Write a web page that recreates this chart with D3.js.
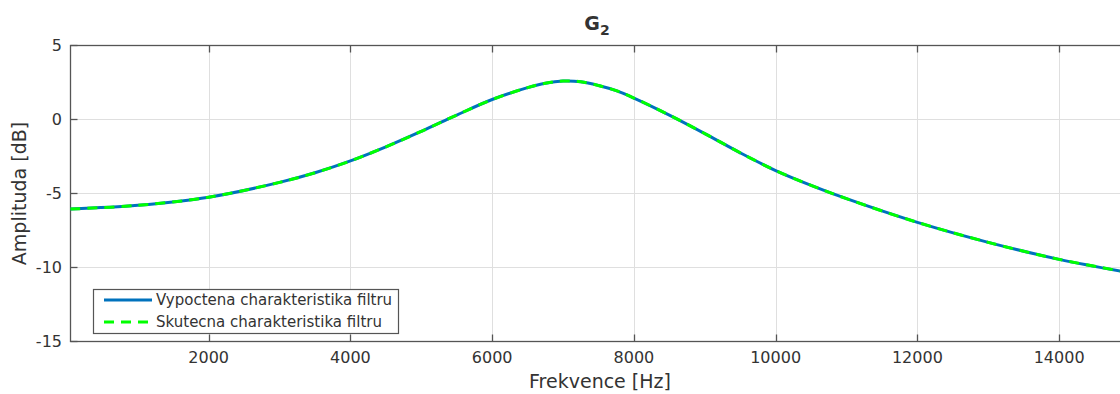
<!DOCTYPE html>
<html>
<head>
<meta charset="utf-8">
<script src="https://cdn.jsdelivr.net/npm/d3@7"></script>
<style>
  body { margin: 0; background: #fff; }
  svg text { font-family: "DejaVu Sans", sans-serif; fill: #333; }
</style>
</head>
<body>
<svg id="chart"></svg>
<script>
// frequency samples [Hz] and amplitude [dB]
var freqs = [50, 1000, 2000, 3000, 3500, 4000, 4500, 5000, 5500, 6000, 6500, 6750, 7000, 7250,
  7500, 7750, 8000, 8500, 9000, 9500, 10000, 10500, 11000, 12000, 13000, 14000, 15000];
var computed = [-6.05, -5.8, -5.25, -4.25, -3.6, -2.8, -1.85, -0.8, 0.3, 1.35, 2.15, 2.45, 2.6, 2.55,
  2.3, 1.95, 1.45, 0.3, -0.95, -2.25, -3.45, -4.45, -5.35, -6.95, -8.3, -9.45, -10.35];
var actual = computed.slice();
var xTicks = [2000, 4000, 6000, 8000, 10000, 12000, 14000];
var yTicks = [-15, -10, -5, 0, 5];
var seriesNames = ["Vypoctena charakteristika filtru", "Skutecna charakteristika filtru"];

var width = 1120, height = 394;
var svg = d3.select("#chart").attr("width", width).attr("height", height);

var x = d3.scaleLinear().domain([50, 15000]).range([70.5, 1130]);
var y = d3.scaleLinear().domain([-15, 5]).range([341.5, 45.5]);

var g = svg.append("g");

// grid
g.selectAll(".gx").data(xTicks).enter().append("line")
  .attr("x1", function (d) { return Math.round(x(d)) + 0.5; })
  .attr("x2", function (d) { return Math.round(x(d)) + 0.5; })
  .attr("y1", y(5)).attr("y2", y(-15))
  .attr("stroke", "#dfdfdf").attr("stroke-width", 1);
g.selectAll(".gy").data(yTicks).enter().append("line")
  .attr("x1", x.range()[0]).attr("x2", x.range()[1])
  .attr("y1", function (d) { return y(d); })
  .attr("y2", function (d) { return y(d); })
  .attr("stroke", "#dfdfdf").attr("stroke-width", 1);

// box
g.append("rect")
  .attr("x", x.range()[0]).attr("y", y(5))
  .attr("width", x.range()[1] - x.range()[0]).attr("height", y(-15) - y(5))
  .attr("fill", "none").attr("stroke", "#555").attr("stroke-width", 1.3);

// ticks (inward)
var tl = 7;
g.selectAll(".tb").data(xTicks).enter().append("line")
  .attr("x1", function (d) { return Math.round(x(d)) + 0.5; })
  .attr("x2", function (d) { return Math.round(x(d)) + 0.5; })
  .attr("y1", y(-15)).attr("y2", y(-15) - tl)
  .attr("stroke", "#555").attr("stroke-width", 1.3);
g.selectAll(".tt").data(xTicks).enter().append("line")
  .attr("x1", function (d) { return Math.round(x(d)) + 0.5; })
  .attr("x2", function (d) { return Math.round(x(d)) + 0.5; })
  .attr("y1", y(5)).attr("y2", y(5) + tl)
  .attr("stroke", "#555").attr("stroke-width", 1.3);
g.selectAll(".tl").data(yTicks).enter().append("line")
  .attr("x1", x.range()[0]).attr("x2", x.range()[0] + tl)
  .attr("y1", function (d) { return y(d); })
  .attr("y2", function (d) { return y(d); })
  .attr("stroke", "#555").attr("stroke-width", 1.3);

// tick labels
g.selectAll(".xl").data(xTicks).enter().append("text")
  .attr("x", function (d) { return x(d); })
  .attr("y", 363)
  .attr("text-anchor", "middle")
  .attr("font-size", 16)
  .text(function (d) { return d; });
g.selectAll(".yl").data(yTicks).enter().append("text")
  .attr("x", 62)
  .attr("y", function (d) { return y(d) + 5.5; })
  .attr("text-anchor", "end")
  .attr("font-size", 16)
  .text(function (d) { return d; });

// axis labels
svg.append("text")
  .attr("x", 600).attr("y", 388)
  .attr("text-anchor", "middle").attr("font-size", 19)
  .text("Frekvence [Hz]");
svg.append("text")
  .attr("transform", "translate(26," + y(-5) + ") rotate(-90)")
  .attr("text-anchor", "middle").attr("font-size", 19)
  .text("Amplituda [dB]");

// title
var title = svg.append("text")
  .attr("x", 597).attr("y", 30)
  .attr("text-anchor", "middle").attr("font-size", 19).attr("font-weight", "bold");
title.append("tspan").text("G");
title.append("tspan").attr("font-size", 14).attr("dy", 5).text("2");

// curves
var line = d3.line()
  .x(function (d) { return x(d[0]); })
  .y(function (d) { return y(d[1]); })
  .curve(d3.curveCatmullRom.alpha(0.5));

g.append("path")
  .datum(d3.zip(freqs, computed))
  .attr("d", line)
  .attr("fill", "none").attr("stroke", "#0072BD").attr("stroke-width", 3);
g.append("path")
  .datum(d3.zip(freqs, actual))
  .attr("d", line)
  .attr("fill", "none").attr("stroke", "#00FF00").attr("stroke-width", 3)
  .attr("stroke-dasharray", "10,7");

// legend
var lg = svg.append("g");
lg.append("rect")
  .attr("x", 93.5).attr("y", 289.5).attr("width", 305).attr("height", 44)
  .attr("fill", "#fff").attr("stroke", "#555").attr("stroke-width", 1.2);
var styles = [
  { color: "#0072BD", dash: null },
  { color: "#00FF00", dash: "10,7" }
];
seriesNames.forEach(function (name, i) {
  var yy = 300 + i * 22;
  lg.append("line")
    .attr("x1", 104).attr("x2", 152).attr("y1", yy).attr("y2", yy)
    .attr("stroke", styles[i].color).attr("stroke-width", 3)
    .attr("stroke-dasharray", styles[i].dash);
  lg.append("text")
    .attr("x", 156).attr("y", yy + 5)
    .attr("font-size", 15)
    .text(name);
});
</script>
</body>
</html>
